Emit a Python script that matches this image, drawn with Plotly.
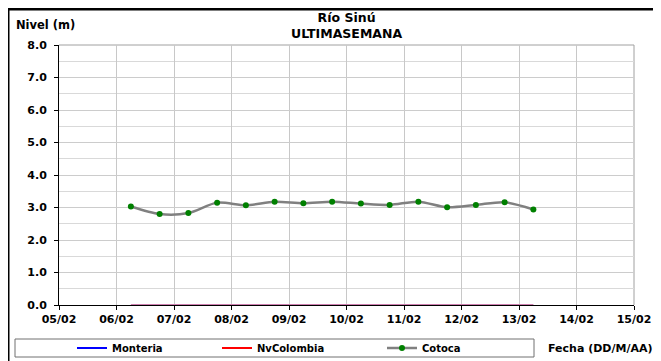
import plotly.graph_objects as go

# ---- data ----
fechas = [
    "2024-02-06 06:00", "2024-02-06 18:00", "2024-02-07 06:00", "2024-02-07 18:00",
    "2024-02-08 06:00", "2024-02-08 18:00", "2024-02-09 06:00", "2024-02-09 18:00",
    "2024-02-10 06:00", "2024-02-10 18:00", "2024-02-11 06:00", "2024-02-11 18:00",
    "2024-02-12 06:00", "2024-02-12 18:00", "2024-02-13 06:00",
]
monteria = [0, 0, 0, 0, 0, 0, 0, 0, 0, 0, 0, 0, 0, 0, 0]
nvcolombia = [0, 0, 0, 0, 0, 0, 0, 0, 0, 0, 0, 0, 0, 0, 0]
cotoca = [3.03, 2.80, 2.83, 3.15, 3.07, 3.18, 3.13, 3.18,
          3.12, 3.08, 3.18, 3.01, 3.08, 3.16, 2.94]
series_names = ["Monteria", "NvColombia", "Cotoca"]
titulo = "Río Sinú<br>ULTIMASEMANA"
y_titulo = "Nivel (m)"
x_titulo = "Fecha (DD/M/AA)"

FONT = "DejaVu Sans"

# page has an 8px body margin: figure occupies page x 8..661, y 8..361
OFF = 8
FW, FH = 661 - OFF, 361 - OFF
# plot area in page px: x 59..634, y 45..305
L = 59 - OFF
R = 661 - 634
T = 45 - OFF
B = 361 - 305
PW, PH = FW - L - R, FH - T - B


def px(page_x):
    return (page_x - OFF - L) / PW


def py(page_y):
    return (FH - B - (page_y - OFF)) / PH


fig = go.Figure()

# data traces
fig.add_trace(go.Scatter(x=fechas, y=monteria, mode="lines", name=series_names[0],
                         line=dict(color="rgb(190,170,235)", width=2), showlegend=False,
                         hoverinfo="skip"))
fig.add_trace(go.Scatter(x=fechas, y=nvcolombia, mode="lines", name=series_names[1],
                         line=dict(color="rgba(255,0,0,0.25)", width=2), showlegend=False,
                         hoverinfo="skip"))
fig.add_trace(go.Scatter(x=fechas, y=cotoca, mode="lines+markers", name=series_names[2],
                         line=dict(color="#808080", width=2.5, shape="spline", smoothing=0.8),
                         marker=dict(color="#008000", size=6), showlegend=False))

# legend entries
leg_font = dict(family=FONT, size=10, color="black", weight="bold")
fig.add_trace(go.Scatter(x=[None], y=[None], mode="lines", name=series_names[0],
                         line=dict(color="#0000ff", width=2), legend="legend"))
fig.add_trace(go.Scatter(x=[None], y=[None], mode="lines", name=series_names[1],
                         line=dict(color="#ff0000", width=2), legend="legend2"))
fig.add_trace(go.Scatter(x=[None], y=[None], mode="lines+markers", name=series_names[2],
                         line=dict(color="#808080", width=2.5),
                         marker=dict(color="#008000", size=6), legend="legend3"))

leg_common = dict(bgcolor="rgba(0,0,0,0)", borderwidth=0, font=leg_font,
                  xanchor="left", yanchor="middle", orientation="h")
fig.update_layout(
    legend=dict(x=px(72), y=py(348), **leg_common),
    legend2=dict(x=px(217), y=py(348), **leg_common),
    legend3=dict(x=px(382), y=py(348), **leg_common),
)

tick_font = dict(family=FONT, size=11, color="black", weight="bold")
fig.update_xaxes(
    type="date", range=["2024-02-05", "2024-02-15"], dtick=86400000,
    tick0="2024-02-05", tickformat="%d/%m", tickfont=tick_font,
    showgrid=True, gridcolor="#c8c8c8", gridwidth=1, automargin=False,
    showline=True, linecolor="black", linewidth=1, layer="below traces",
    ticks="outside", ticklen=4, tickcolor="black", zeroline=False,
)
fig.update_yaxes(
    range=[0, 8], dtick=1, tickformat=".1f", tickfont=tick_font,
    showgrid=True, gridcolor="#cccccc", gridwidth=1, automargin=False,
    minor=dict(dtick=0.5, showgrid=True, gridcolor="#d9d9d9", ticks=""),
    showline=True, linecolor="black", linewidth=1, layer="below traces",
    ticks="outside", ticklen=4, tickcolor="black", zeroline=False,
    ticklabelstandoff=5,
)

shapes = [
    # grey top/right border of plot area
    dict(type="line", xref="paper", yref="paper", x0=0, x1=1, y0=1, y1=1,
         line=dict(color="#a0a0a0", width=1), layer="below"),
    dict(type="line", xref="paper", yref="paper", x0=1, x1=1, y0=0, y1=1,
         line=dict(color="#a0a0a0", width=1), layer="below"),
    # legend box
    dict(type="rect", xref="paper", yref="paper", x0=px(15), x1=px(534),
         y0=py(339), y1=py(357), line=dict(color="#707070", width=1),
         fillcolor="white", layer="below"),
    # outer frame (left and top)
    dict(type="line", xref="paper", yref="paper", x0=px(8), x1=px(8),
         y0=py(9), y1=py(380), line=dict(color="black", width=3)),
    dict(type="line", xref="paper", yref="paper", x0=px(8), x1=px(680),
         y0=py(9), y1=py(9), line=dict(color="black", width=3)),
]

annotations = [
    dict(text=titulo, xref="paper", yref="paper", x=0.5, y=py(25),
         xanchor="center", yanchor="middle", showarrow=False,
         font=dict(family=FONT, size=12.5, color="black", weight="bold")),
    dict(text=y_titulo, xref="paper", yref="paper", x=px(14), y=py(25),
         xanchor="left", yanchor="middle", showarrow=False,
         font=dict(family=FONT, size=11.5, color="black", weight="bold")),
    dict(text=x_titulo, xref="paper", yref="paper", x=px(546), y=py(348),
         xanchor="left", yanchor="middle", showarrow=False,
         font=dict(family=FONT, size=11, color="black", weight="bold")),
]

fig.update_layout(
    width=FW, height=FH,
    margin=dict(l=L, r=R, t=T, b=B, pad=0, autoexpand=False),
    paper_bgcolor="white", plot_bgcolor="white",
    shapes=shapes, annotations=annotations,
    font=dict(family=FONT, color="black"),
)

fig.write_html("out.html")
